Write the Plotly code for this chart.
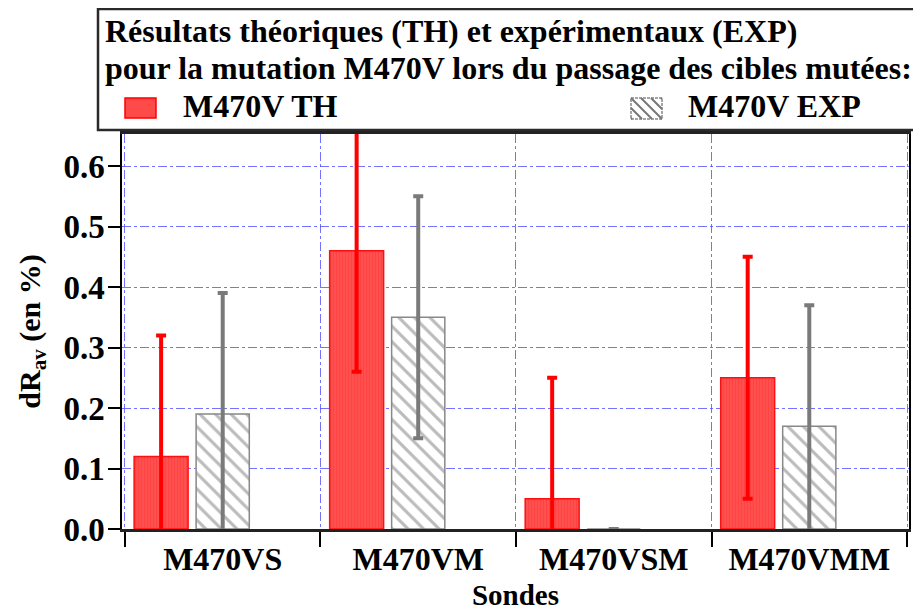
import plotly.graph_objects as go

categories = ["M470VS", "M470VM", "M470VSM", "M470VMM"]
th_values = [0.12, 0.46, 0.05, 0.25]
th_errors = [0.20, 0.20, 0.20, 0.20]
exp_values = [0.19, 0.35, 0.0, 0.17]
exp_errors = [0.20, 0.20, 0.0, 0.20]
series_names = ["M470V TH", "M470V EXP"]
y_ticks = [0.0, 0.1, 0.2, 0.3, 0.4, 0.5, 0.6]
title_lines = [
    "Résultats théoriques (TH) et expérimentaux (EXP)",
    "pour la mutation M470V lors du passage des cibles mutées:",
]

# page body has an 8px margin, so the figure is 8px smaller and every
# screen position below is shifted by that offset
OFF = 8
W, H = 921 - OFF, 612 - OFF
L, R, T, B = 122 - OFF, 12, 134 - OFF, 83
PW, PH = W - L - R, H - T - B
FONT = "Liberation Serif"


def px(x):
    return (x - OFF - L) / PW


def py(y):
    return (H - B - (y - OFF)) / PH


fig = go.Figure()

fig.add_trace(go.Bar(
    x=categories, y=th_values, name=series_names[0],
    offset=-0.453, width=0.276,
    marker=dict(color="#ff4a4a", line=dict(color="#ff1010", width=1.5),
                pattern=dict(shape="|", fgcolor="#ff2a2a", bgcolor="#ff5050",
                             size=3, solidity=0.25)),
    error_y=dict(type="data", array=th_errors, color="#ff0000",
                 thickness=4, width=5),
    showlegend=False,
))
fig.add_trace(go.Bar(
    x=categories, y=exp_values, name=series_names[1],
    offset=-0.136, width=0.272,
    marker=dict(color="white", line=dict(color="#888888", width=1.5),
                pattern=dict(shape="\\", fgcolor="#777777", bgcolor="white",
                             size=11, solidity=0.28)),
    error_y=dict(type="data", array=exp_errors, color="#7a7a7a",
                 thickness=4, width=5),
    showlegend=False,
))

# legend frame, text and swatches (drawn by hand to match the boxed legend)
shapes = [
    dict(type="rect", xref="paper", yref="paper",
         x0=px(98), x1=px(918), y0=py(9), y1=py(130),
         line=dict(color="#2a2a2a", width=2.5), fillcolor="rgba(0,0,0,0)"),
    dict(type="rect", xref="paper", yref="paper",
         x0=px(125), x1=px(156), y0=py(98), y1=py(118),
         line=dict(color="#ff0000", width=1.5), fillcolor="#ff4a4a"),
]
gx0, gx1, gy0, gy1 = 631, 662, 98, 119
hatch = []
for off in range(-20, 32, 10):
    xa, ya, xb, yb = gx0 + off, gy0, gx0 + off + (gy1 - gy0), gy1
    if xa < gx0:
        ya += gx0 - xa
        xa = gx0
    if xb > gx1:
        yb -= xb - gx1
        xb = gx1
    if xb > xa:
        hatch.append(f"M{px(xa)},{py(ya)} L{px(xb)},{py(yb)}")
shapes.append(dict(type="rect", xref="paper", yref="paper",
                   x0=px(gx0), x1=px(gx1), y0=py(gy0), y1=py(gy1),
                   line=dict(color="#888888", width=1.5, dash="3px,1px"),
                   fillcolor="white"))
shapes.append(dict(type="path", xref="paper", yref="paper", path=" ".join(hatch),
                   line=dict(color="#777777", width=2)))

bold = dict(family=FONT, size=32, color="black", weight="bold")
annotations = [
    dict(text=title_lines[0], x=px(103), y=py(31), xref="paper", yref="paper",
         xanchor="left", yanchor="middle", showarrow=False, font=bold),
    dict(text=title_lines[1], x=px(103), y=py(68), xref="paper", yref="paper",
         xanchor="left", yanchor="middle", showarrow=False, font=bold),
    dict(text=series_names[0], x=px(181), y=py(106), xref="paper", yref="paper",
         xanchor="left", yanchor="middle", showarrow=False, font=bold),
    dict(text=series_names[1], x=px(686), y=py(106), xref="paper", yref="paper",
         xanchor="left", yanchor="middle", showarrow=False, font=bold),
]

fig.update_layout(
    width=W, height=H,
    margin=dict(l=L, r=R, t=T, b=B, autoexpand=False),
    paper_bgcolor="white", plot_bgcolor="white",
    barmode="overlay",
    shapes=shapes, annotations=annotations,
    showlegend=False,
)
fig.update_xaxes(
    range=[-0.515, 3.51], tickson="boundaries",
    ticks="outside", ticklen=15, tickwidth=1.5, tickcolor="black",
    tickfont=dict(family=FONT, size=32, color="black", weight="bold"),
    showline=True, linecolor="#222222", linewidth=2.5, mirror=True,
    showgrid=True, gridcolor="rgba(80,80,255,0.8)", gridwidth=1, griddash="dashdot",
    title=dict(text="Sondes", standoff=9,
               font=dict(family=FONT, size=29, color="black", weight="bold")),
)
fig.update_yaxes(
    range=[0, 0.653], tickvals=y_ticks, tickformat=".1f",
    ticks="outside", ticklen=12, tickwidth=1.5, tickcolor="black",
    ticklabelstandoff=-3,
    tickfont=dict(family=FONT, size=33, color="black", weight="bold"),
    showline=True, linecolor="black", linewidth=1.5, mirror=True,
    showgrid=True, gridcolor="rgba(80,80,255,0.8)", gridwidth=1, griddash="dashdot",
    zeroline=False,
    title=dict(text="dR<sub>av</sub> (en %)", standoff=14,
               font=dict(family=FONT, size=30, color="black", weight="bold")),
)

fig.write_html("out.html")
